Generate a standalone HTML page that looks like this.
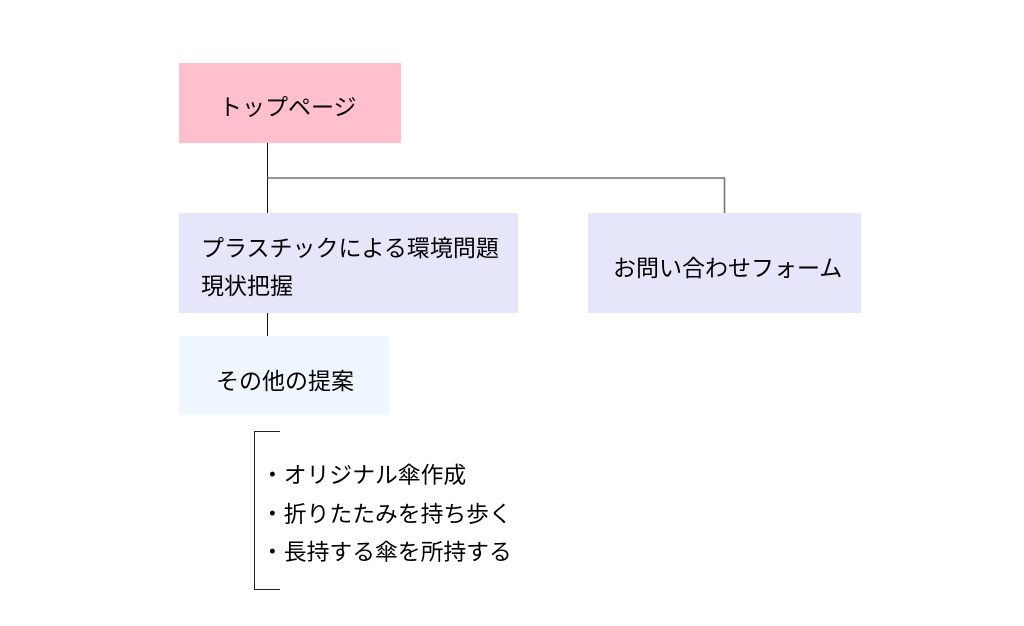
<!DOCTYPE html>
<html>
<head>
<meta charset="utf-8">
<style>
  html, body { margin:0; padding:0; background:#fff; }
  body { width:1024px; height:626px; position:relative; overflow:hidden;
         font-family: "Liberation Sans", "Noto Sans CJK JP", sans-serif; color:#000; }
  .box { position:absolute; }
  .t { position:absolute; white-space:nowrap; font-size:23px; line-height:23px;
       font-family: "Noto Sans CJK JP", "Liberation Sans", sans-serif; color:#000; }
  .l { font-size:22.8px; }
  svg { position:absolute; left:0; top:0; }
</style>
</head>
<body>
  <div class="box" style="left:179px;top:63px;width:222px;height:80px;background:#ffc0cb;"></div>
  <div class="box" style="left:179px;top:213px;width:339px;height:100px;background:#e6e6fa;"></div>
  <div class="box" style="left:588px;top:213px;width:273px;height:100px;background:#e6e6fa;"></div>
  <div class="box" style="left:179px;top:336px;width:210px;height:79px;background:#eef6ff;"></div>

  <svg width="1024" height="626" viewBox="0 0 1024 626">
    <line x1="267.5" y1="143" x2="267.5" y2="213" stroke="#111" stroke-width="1"/>
    <line x1="267" y1="178" x2="725" y2="178" stroke="#555" stroke-width="1.3"/>
    <line x1="724.5" y1="178" x2="724.5" y2="213" stroke="#777" stroke-width="1.6"/>
    <line x1="267.5" y1="313" x2="267.5" y2="336" stroke="#111" stroke-width="1"/>
    <path d="M280 431.5 H254.5 V589.5 H280" fill="none" stroke="#222" stroke-width="1"/>
  </svg>

  <div class="t" style="left:219px;top:94px;">トップページ</div>
  <div class="t" style="left:201px;top:235px;">プラスチックによる環境問題</div>
  <div class="t" style="left:201px;top:273px;">現状把握</div>
  <div class="t" style="left:613px;top:255px;">お問い合わせフォーム</div>
  <div class="t" style="left:216px;top:368px;">その他の提案</div>

  <div class="t l" style="left:261px;top:462px;">・オリジナル傘作成</div>
  <div class="t l" style="left:261px;top:501px;">・折りたたみを持ち歩く</div>
  <div class="t l" style="left:261px;top:539px;">・長持する傘を所持する</div>
</body>
</html>
